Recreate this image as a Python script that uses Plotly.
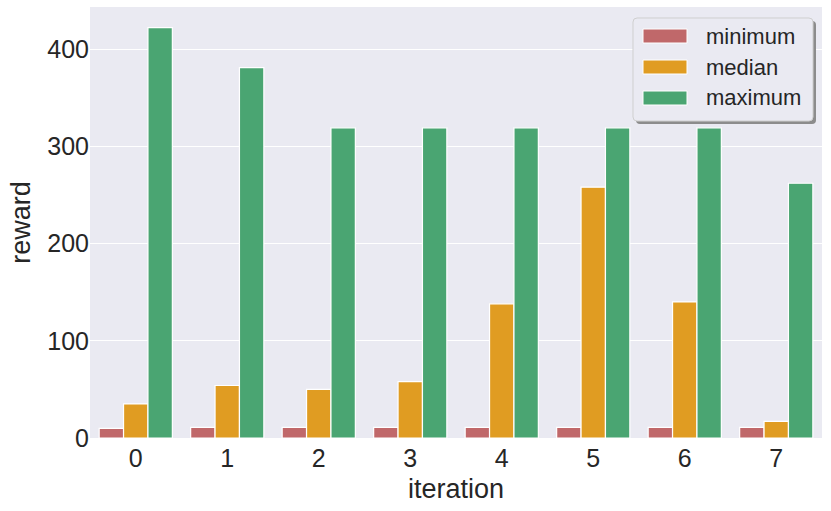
import plotly.graph_objects as go

# data
iterations = ['0', '1', '2', '3', '4', '5', '6', '7']
reward_min = [10, 11, 11, 11, 11, 11, 11, 11]
reward_median = [35, 54, 50, 58, 138, 258, 140, 17]
reward_max = [422, 381, 319, 319, 319, 319, 319, 262]

series_names = ['minimum', 'median', 'maximum']
series_colors = ['#c0686a', '#e09c22', '#4aa572']

font_family = 'Liberation Sans, Arial, sans-serif'
W, H = 831, 511
L, R, T, B = 90, 9, 7, 73
pw, ph = W - L - R, H - T - B


def px_x(x):
    return (x - L) / pw


def px_y(y):
    return (H - B - y) / ph


def rounded_box(x0, y0, x1, y1, r=4):
    # pixel coords -> paper path with rounded corners
    rx, ry = r / pw, r / ph
    a, b, c, d = px_x(x0), px_y(y1), px_x(x1), px_y(y0)
    return (f'M {a + rx},{b} L {c - rx},{b} Q {c},{b} {c},{b + ry} '
            f'L {c},{d - ry} Q {c},{d} {c - rx},{d} L {a + rx},{d} '
            f'Q {a},{d} {a},{d - ry} L {a},{b + ry} Q {a},{b} {a + rx},{b} Z')


fig = go.Figure()
for name, vals, color in zip(series_names, [reward_min, reward_median, reward_max], series_colors):
    fig.add_trace(go.Bar(x=iterations, y=vals, name=name,
                         marker=dict(color=color, line=dict(color='white', width=1.2))))

fig.update_layout(
    width=W, height=H,
    margin=dict(l=L, r=R, t=T, b=B),
    paper_bgcolor='white',
    plot_bgcolor='#eaeaf2',
    barmode='group',
    bargap=0.2,
    bargroupgap=0,
    font=dict(family=font_family, color='#262626'),
    showlegend=False,
)

# legend box (shadow + frame), symbols and labels
fig.add_shape(type='path', xref='paper', yref='paper', path=rounded_box(636, 21, 816, 124),
              line=dict(width=0), fillcolor='#8c8c8c', layer='above')
fig.add_shape(type='path', xref='paper', yref='paper', path=rounded_box(633, 18, 813, 121),
              line=dict(color='#cfcfcf', width=1), fillcolor='#eaeaf2', layer='above')
for i, (name, color) in enumerate(zip(series_names, series_colors)):
    cy = 36 + 31 * i
    fig.add_shape(type='rect', xref='paper', yref='paper',
                  x0=px_x(643), x1=px_x(687), y0=px_y(cy + 7), y1=px_y(cy - 7),
                  line=dict(color='white', width=1), fillcolor=color, layer='above')
    fig.add_annotation(text=name, xref='paper', yref='paper', x=px_x(704), y=px_y(cy),
                       xanchor='left', yanchor='middle', showarrow=False,
                       font=dict(size=22, color='#262626'))

fig.update_xaxes(
    title=dict(text='iteration', font=dict(size=27), standoff=8),
    tickfont=dict(size=25),
    ticklabelstandoff=3,
    showgrid=False, zeroline=False, ticks='', ticklen=0,
    automargin=False,
)
fig.update_yaxes(
    title=dict(text='reward', font=dict(size=27), standoff=8),
    tickfont=dict(size=25),
    range=[0, 443.3],
    tickvals=[0, 100, 200, 300, 400],
    showgrid=True, gridcolor='white', gridwidth=1.2,
    zeroline=False, ticks='', ticklen=0,
    automargin=False,
)

fig.write_html('out.html', config={'displayModeBar': False},
               post_script="document.body.style.margin='0';")
